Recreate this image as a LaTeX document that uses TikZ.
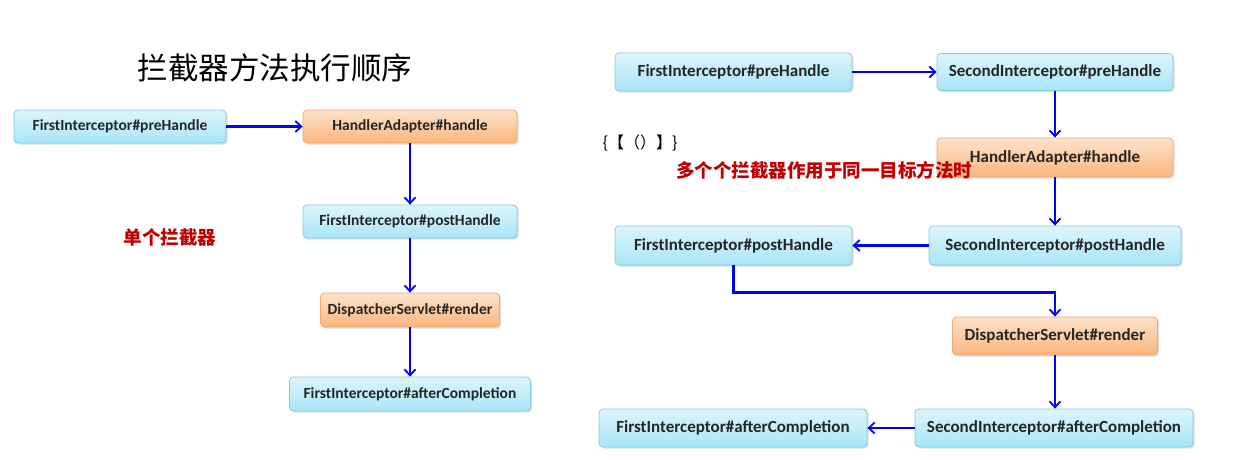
\documentclass[tikz,border=0pt]{standalone}
\usepackage{fontspec}
\setmainfont{Carlito}
\newfontfamily\cjk{Noto Sans CJK SC}
\usetikzlibrary{arrows.meta,shadows}
\definecolor{bluetop}{HTML}{DDF5FC}
\definecolor{bluebot}{HTML}{A8E6F8}
\definecolor{blueedge}{HTML}{86C8DC}
\definecolor{orgtop}{HTML}{FDE3CC}
\definecolor{orgbot}{HTML}{FBB57C}
\definecolor{orgedge}{HTML}{F4A672}
\definecolor{darkred}{HTML}{C00000}
\tikzset{
  box/.style={draw, line width=0.8pt, rounded corners=4pt, inner sep=0pt,
    font=\bfseries\fontsize{15.5}{18}\selectfont, text=black!85,
    drop shadow={shadow xshift=1.5pt, shadow yshift=-1.5pt, opacity=0.25}},
  bluebox/.style={box, draw=blueedge, top color=bluetop, bottom color=bluebot},
  orgbox/.style={box, draw=orgedge, top color=orgtop, bottom color=orgbot},
  big/.style={font=\bfseries\fontsize{17}{20}\selectfont},
  flow/.style={draw=blue, line width=2.2pt, -{Straight Barb[length=6pt,width=11pt,line width=1.8pt]}},
}
\begin{document}
\begin{tikzpicture}[x=1pt,y=-1pt]
\useasboundingbox (0,0) rectangle (1240,460);
% title
\node[font=\cjk\fontsize{30.5}{34}\selectfont] (title) at (275,68) {拦截器方法执行顺序};
\node[font=\cjk\fontsize{16}{18}\selectfont] (brk) at (640,143) {\{【（）】\}};
% left chain
\node[bluebox, minimum width=212pt, minimum height=33pt] (a1) at (120,126.5) {FirstInterceptor\#preHandle};
\node[orgbox, minimum width=214pt, minimum height=33pt] (a2) at (410,126.5) {HandlerAdapter\#handle};
\node[bluebox, minimum width=214pt, minimum height=33pt] (a3) at (410,221.5) {FirstInterceptor\#postHandle};
\node[orgbox, minimum width=179pt, minimum height=34pt] (a4) at (410,310) {DispatcherServlet\#render};
\node[bluebox, minimum width=241pt, minimum height=34pt] (a5) at (410,394) {FirstInterceptor\#afterCompletion};
\draw[flow] (a1) -- (a2);
\draw[flow] (a2) -- (a3);
\draw[flow] (a3) -- (a4);
\draw[flow] (a4) -- (a5);
% right chain
\node[bluebox, big, minimum width=237pt, minimum height=38pt] (b1) at (733.5,72) {FirstInterceptor\#preHandle};
\node[bluebox, big, minimum width=236pt, minimum height=37pt] (b2) at (1055,72) {SecondInterceptor\#preHandle};
\node[orgbox, big, minimum width=236pt, minimum height=39pt] (b3) at (1055,157.5) {HandlerAdapter\#handle};
\node[bluebox, big, minimum width=237pt, minimum height=39pt] (b4) at (733.5,245.5) {FirstInterceptor\#postHandle};
\node[bluebox, big, minimum width=252pt, minimum height=39pt] (b5) at (1055,245.5) {SecondInterceptor\#postHandle};
\node[orgbox, big, minimum width=205pt, minimum height=38pt] (b6) at (1055,336) {DispatcherServlet\#render};
\node[bluebox, big, minimum width=268pt, minimum height=38pt] (b7) at (733,428) {FirstInterceptor\#afterCompletion};
\node[bluebox, big, minimum width=278pt, minimum height=38pt] (b8) at (1054,428) {SecondInterceptor\#afterCompletion};
\draw[flow] (b1) -- (b2);
\draw[flow] (b2) -- (b3);
\draw[flow] (b3) -- (b5);
\draw[flow] (b5) -- (b4);
\draw[flow] (b4.south) -- ++(0,27) -| (b6.north);
\draw[flow] (b6.south) -- (b6.south |- b8.north);
\draw[flow] (b8) -- (b7);
% red labels (on top)
\node[font=\cjk\bfseries\fontsize{18.5}{21}\selectfont, text=darkred] (single) at (170,237) {单个拦截器};
\node[font=\cjk\bfseries\fontsize{18.5}{21}\selectfont, text=darkred] (multi) at (824,170) {多个个拦截器作用于同一目标方法时};
\end{tikzpicture}
\end{document}
